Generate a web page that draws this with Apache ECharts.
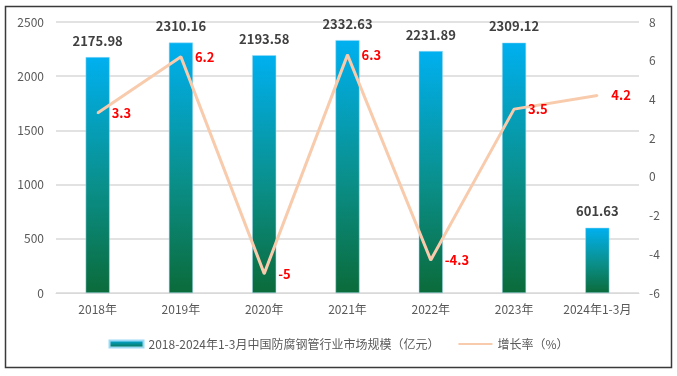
<!DOCTYPE html>
<html><head><meta charset="utf-8">
<script src="https://cdn.jsdelivr.net/npm/echarts@6/dist/echarts.min.js"></script>
<style>html,body{margin:0;padding:0;background:#fff}#c{width:677px;height:376px}</style>
</head><body><div id="c"></div>
<script>
const categories = ['2018年','2019年','2020年','2021年','2022年','2023年','2024年1-3月'];
const marketSize = [2175.98, 2310.16, 2193.58, 2332.63, 2231.89, 2309.12, 601.63];
const growthRate = [3.3, 6.2, -5, 6.3, -4.3, 3.5, 4.2];
const leftTicks = [0, 500, 2500, 500];   // min, interval, max (left axis)
const rightTicks = [-6, 2, 8];           // min, interval, max (right axis)
const barName = '2018-2024年1-3月中国防腐钢管行业市场规模（亿元）';
const lineName = '增长率（%）';

const FONT = '"Noto Sans CJK SC", "Noto Sans", sans-serif';
const chart = echarts.init(document.getElementById('c'));
const grad = new echarts.graphic.LinearGradient(0, 0, 0, 1, [
  {offset: 0, color: '#00B0F0'},
  {offset: 0.55, color: '#0A8F8A'},
  {offset: 1, color: '#0B6B3A'}
]);
chart.setOption({
  animation: false,
  textStyle: {fontFamily: FONT},
  graphic: [{type: 'rect', shape: {x: 5.5, y: 6.5, width: 666, height: 361},
    style: {fill: 'none', stroke: '#3a3a3a', lineWidth: 1.5}, silent: true}],
  grid: {left: 56, right: 38, top: 22, bottom: 83},
  legend: {
    bottom: 21, left: 'center', itemGap: 18,
    textStyle: {color: '#595959', fontSize: 12, fontFamily: FONT},
    data: [
      {name: barName, icon: 'rect', itemStyle: {color: new echarts.graphic.LinearGradient(0,0,0,1,[{offset:0,color:'#00B0F0'},{offset:1,color:'#0B6B3A'}])}},
      {name: lineName, itemStyle: {opacity: 0}}
    ],
    itemWidth: 34, itemHeight: 7
  },
  xAxis: {
    type: 'category', data: categories,
    axisLine: {lineStyle: {color: '#D9D9D9'}}, axisTick: {show: false},
    axisLabel: {color: '#595959', fontSize: 12, margin: 10, interval: 0}
  },
  yAxis: [
    {type: 'value', min: leftTicks[0], max: leftTicks[2], interval: leftTicks[3],
     axisLine: {show: false}, axisTick: {show: false},
     axisLabel: {color: '#595959', fontSize: 12, margin: 12, formatter: v => String(v)},
     splitLine: {lineStyle: {color: '#D9D9D9', width: 1.5}}},
    {type: 'value', min: rightTicks[0], max: rightTicks[2], interval: rightTicks[1],
     axisLine: {show: false}, axisTick: {show: false},
     axisLabel: {color: '#595959', fontSize: 12, margin: 10, formatter: v => String(v)},
     splitLine: {show: false}}
  ],
  series: [
    {name: barName, type: 'bar', data: marketSize, barWidth: 24,
     itemStyle: {color: grad, borderColor: '#9DD9F3', borderWidth: 0.5},
     label: {show: true, position: 'top', distance: 10, color: '#404040', fontWeight: 'bold', fontSize: 13,
       fontFamily: FONT, formatter: p => p.value.toFixed(2)}},
    {name: lineName, type: 'line', yAxisIndex: 1, data: growthRate,
     symbol: 'circle', symbolSize: 2, showSymbol: true,
     lineStyle: {color: '#F8CBAD', width: 3}, itemStyle: {color: '#F8CBAD'},
     labelLayout: {hideOverlap: false},
     label: {show: true, position: 'right', distance: 13, color: '#FF0000', fontWeight: 'bold', fontSize: 13,
       fontFamily: FONT, offset: [0, 4]}}
  ]
});
</script></body></html>
